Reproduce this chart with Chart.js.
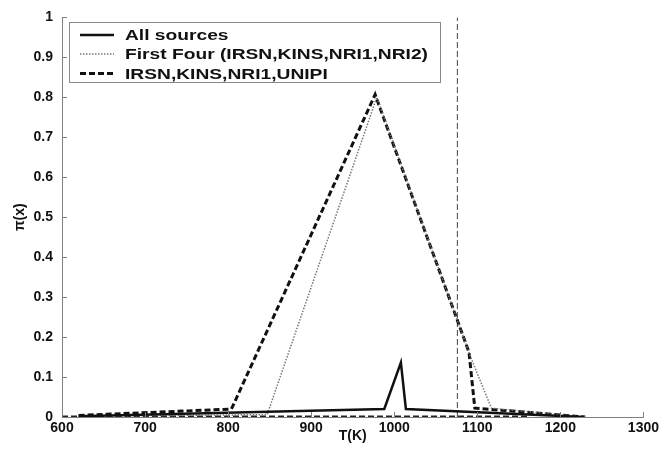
<!DOCTYPE html>
<html>
<head>
<meta charset="utf-8">
<script src="https://cdn.jsdelivr.net/npm/chart.js@4/dist/chart.umd.min.js"></script>
<style>
html,body{margin:0;padding:0;background:#fff;}
#wrap{width:662px;height:452px;}
</style>
</head>
<body>
<div id="wrap"><canvas id="c" width="662" height="452"></canvas></div>
<script>
// ---- data ----
const allT = [620, 988, 1008, 1014, 1228];
const allV = [0.002, 0.020, 0.136, 0.020, 0.0];

const firstFourT = [620, 847, 979, 1092, 1117, 1230];
const firstFourV = [0.002, 0.006, 0.80, 0.150, 0.022, 0.0];

const unipiT = [620, 804, 977, 1090, 1097, 1160, 1230];
const unipiV = [0.004, 0.020, 0.807, 0.162, 0.022, 0.012, 0.0];

const baseT = [600, 1162];
const baseV = [0.002, 0.002];

const refT = [1076, 1076];
const refV = [0, 1];

const labels = ['All sources', 'First Four (IRSN,KINS,NRI1,NRI2)', 'IRSN,KINS,NRI1,UNIPI'];
const xTicks = [600, 700, 800, 900, 1000, 1100, 1200, 1300];
const yTicks = [0, 0.1, 0.2, 0.3, 0.4, 0.5, 0.6, 0.7, 0.8, 0.9, 1];

const pts = (t, v) => t.map((x, i) => ({x: x, y: v[i]}));
const FONT = '"Liberation Sans", Arial, sans-serif';

const innerTicks = {
  id: 'innerTicks',
  afterDraw(chart) {
    const ctx = chart.ctx, xs = chart.scales.x, ys = chart.scales.y;
    const a = chart.chartArea;
    ctx.save();
    ctx.strokeStyle = '#808080';
    ctx.lineWidth = 1;
    ctx.beginPath();
    xTicks.forEach(t => { const p = Math.round(xs.getPixelForValue(t)) + 0.5; ctx.moveTo(p, a.bottom); ctx.lineTo(p, a.bottom - 5); });
    yTicks.forEach(t => { const p = Math.round(ys.getPixelForValue(t)) + 0.5; ctx.moveTo(a.left, p); ctx.lineTo(a.left + 5, p); });
    ctx.stroke();
    ctx.restore();
  }
};

const boxLegend = {
  id: 'boxLegend',
  afterDraw(chart) {
    const ctx = chart.ctx;
    ctx.save();
    ctx.fillStyle = '#fff';
    ctx.fillRect(69.5, 22.5, 371, 60);
    ctx.strokeStyle = '#888';
    ctx.lineWidth = 1;
    ctx.strokeRect(69.5, 22.5, 371, 60);
    const rows = [35, 54, 73.5];
    ctx.font = 'bold 15px ' + FONT;
    const sx = 303 / ctx.measureText(labels[1]).width;
    chart.data.datasets.slice(0, 3).forEach((ds, i) => {
      ctx.strokeStyle = ds.borderColor;
      ctx.lineWidth = ds.borderWidth;
      ctx.setLineDash(ds.borderDash || []);
      ctx.beginPath();
      ctx.moveTo(80, rows[i]);
      ctx.lineTo(114, rows[i]);
      ctx.stroke();
      ctx.setLineDash([]);
      ctx.save();
      ctx.fillStyle = '#111';
      ctx.textBaseline = 'middle';
      ctx.translate(125, rows[i] + 1);
      ctx.scale(sx, 1);
      ctx.fillText(ds.label, 0, 0);
      ctx.restore();
    });
    ctx.restore();
  }
};

new Chart(document.getElementById('c'), {
  type: 'line',
  data: {
    datasets: [
      {label: labels[0], data: pts(allT, allV), borderColor: '#111', borderWidth: 2.5, pointRadius: 0, tension: 0, fill: false},
      {label: labels[1], data: pts(firstFourT, firstFourV), borderColor: '#777', borderWidth: 1.5, borderDash: [1.5, 1.5], pointRadius: 0, tension: 0, fill: false},
      {label: labels[2], data: pts(unipiT, unipiV), borderColor: '#111', borderWidth: 3, borderDash: [6, 3], pointRadius: 0, tension: 0, fill: false},
      {label: '', data: pts(baseT, baseV), borderColor: '#222', borderWidth: 1.5, borderDash: [6, 3], pointRadius: 0, tension: 0, fill: false},
      {label: '', data: pts(refT, refV), borderColor: '#444', borderWidth: 1, borderDash: [6, 3], pointRadius: 0, tension: 0, fill: false}
    ]
  },
  options: {
    responsive: false,
    animation: false,
    layout: {padding: {top: 16, right: 17, left: 0, bottom: 0}},
    plugins: {legend: {display: false}, tooltip: {enabled: false}},
    scales: {
      x: {
        type: 'linear', min: 600, max: 1300,
        afterBuildTicks: s => { s.ticks = xTicks.map(v => ({value: v})); },
        afterFit: s => { s.height = 35; },
        grid: {display: false, drawTicks: false},
        border: {display: true, color: '#808080', width: 1},
        ticks: {color: '#111', font: {family: FONT, size: 14, weight: 'bold'}, padding: 3, maxRotation: 0, autoSkip: false,
          callback: v => String(v)},
        title: {display: true, text: 'T(K)', color: '#111', font: {family: FONT, size: 14, weight: 'bold'}, padding: {top: 0, bottom: 7}}
      },
      y: {
        type: 'linear', min: 0, max: 1,
        afterBuildTicks: s => { s.ticks = yTicks.map(v => ({value: v})); },
        afterFit: s => { s.width = 62; },
        grid: {display: false, drawTicks: false},
        border: {display: true, color: '#808080', width: 1},
        ticks: {color: '#111', font: {family: FONT, size: 14, weight: 'bold'}, padding: 9, autoSkip: false,
          callback: v => String(Math.round(v * 10) / 10)},
        title: {display: true, text: 'π(x)', color: '#111', font: {family: FONT, size: 14, weight: 'bold'}, padding: {top: 12, bottom: 0}}
      }
    }
  },
  plugins: [innerTicks, boxLegend]
});
</script>
</body>
</html>
